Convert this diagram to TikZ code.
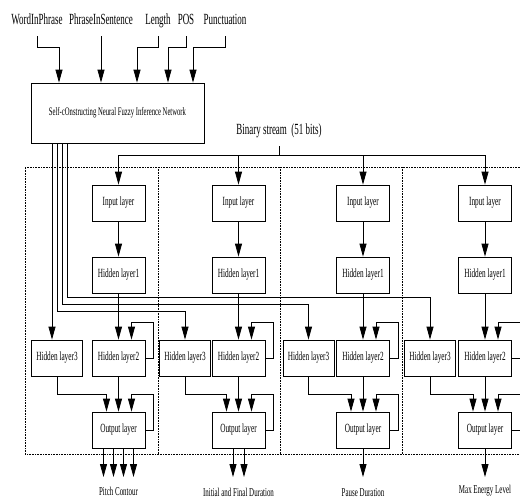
\documentclass[tikz,border=0pt]{standalone}
\usepackage{fontspec}
\setmainfont{Liberation Serif}[FakeStretch=0.58]
\usepackage{tikz}
\usetikzlibrary{positioning,arrows.meta}

\begin{document}
\begin{tikzpicture}[x=1pt, y=-1pt, >={Triangle[length=13pt,width=7pt]}, line width=0.8pt,
    box/.style={draw, minimum width=53pt, minimum height=36pt, inner sep=1pt, font=\fontsize{12.5}{14}\selectfont},
    sidebox/.style={box, minimum width=51pt},
    toplbl/.style={anchor=base, font=\fontsize{15.5}{18}\selectfont, text depth=4pt, inner xsep=0pt, inner ysep=8pt},
    outlbl/.style={anchor=base, font=\fontsize{12}{14}\selectfont, inner sep=1pt},
    frame/.style={densely dotted, line width=0.6pt}]
    \useasboundingbox (0,0) rectangle (520,501);

    % inputs of the fuzzy network
    \node[toplbl] (wip) at (37, 24) {WordInPhrase};
    \node[toplbl] (pis) at (101, 24) {PhraseInSentence};
    \node[toplbl] (len) at (158, 24) {Length};
    \node[toplbl] (pos) at (186, 24) {POS};
    \node[toplbl] (pun) at (225, 24) {Punctuation};

    \node[draw, minimum width=173pt, minimum height=60pt, inner sep=0pt, font=\fontsize{11.5}{13}\selectfont] (net) at (117.5, 113) {Self-cOnstructing Neural Fuzzy Inference Network};

    \draw[->] (wip.south) -- ++(0,11) -| ([xshift=-58.5]net.north);
    \draw[->] (pis.south) -- (pis.south |- net.north);
    \draw[->] (len.south) -- ++(0,11) -| ([xshift=19.5]net.north);
    \draw[->] (pos.south) -- ++(0,11) -| ([xshift=50.5]net.north);
    \draw[->] (pun.south) -- ++(0,11) -| ([xshift=75.5]net.north);

    \node[toplbl] (bin) at (279, 134) {Binary stream\ \ (51 bits)};
    \coordinate (bs) at (279, 155);

    % the four networks
    \draw[frame] (520,167) -- (25,167) -- (25,454) -- (520,454);
    \draw[frame] (158,167) -- (158,454);
    \draw[frame] (280,167) -- (280,454);
    \draw[frame] (402,167) -- (402,454);

    \node[box] (inp1) at (118.5, 203) {Input layer};
    \node[box] (inp2) at (238.5, 203) {Input layer};
    \node[box] (inp3) at (363, 203) {Input layer};
    \node[box] (inp4) at (485, 203) {Input layer};

    \node[box] (hone1) at (118.5, 275) {Hidden layer1};
    \node[box] (hone2) at (238.5, 275) {Hidden layer1};
    \node[box] (hone3) at (363, 275) {Hidden layer1};
    \node[box] (hone4) at (485, 275) {Hidden layer1};

    \node[box] (htwo1) at (118.5, 358) {Hidden layer2};
    \node[box] (htwo2) at (238.5, 358) {Hidden layer2};
    \node[box] (htwo3) at (363, 358) {Hidden layer2};
    \node[box] (htwo4) at (485, 358) {Hidden layer2};

    \node[sidebox] (hthree1) at (57, 358) {Hidden layer3};
    \node[sidebox] (hthree2) at (185, 358) {Hidden layer3};
    \node[sidebox] (hthree3) at (308.5, 358) {Hidden layer3};
    \node[sidebox] (hthree4) at (430, 358) {Hidden layer3};

    \node[box] (outp1) at (118.5, 430) {Output layer};
    \node[box] (outp2) at (238.5, 430) {Output layer};
    \node[box] (outp3) at (363, 430) {Output layer};
    \node[box] (outp4) at (485, 430) {Output layer};

    % binary stream
    \draw (bin.south) -- (bs);
    \draw[->] (bs) -| (inp1.north);
    \draw[->] (bs) -| (inp4.north);
    \draw[->] (bs -| inp2.north) -- (inp2.north);
    \draw[->] (bs -| inp3.north) -- (inp3.north);

    % network outputs to hidden layer3
    \draw[->] ([xshift=-65.5]net.south) -- ([xshift=-5]hthree1.north);
    \draw[->] ([xshift=-60.5]net.south) -- ++(0,168) -| (hthree2.north);
    \draw[->] ([xshift=-55.5]net.south) -- ++(0,161) -| (hthree3.north);
    \draw[->] ([xshift=-50.5]net.south) -- ++(0,154) -| (hthree4.north);

    \draw[->] (inp1) -- (hone1);
    \draw[->] (hone1) -- (htwo1);
    \draw[->] (htwo1) -- (outp1);
    \draw[->] (htwo1.east) -- ++(8,0) -- ++(0,-36) -| ([xshift=13]htwo1.north);
    \draw[->] (outp1.east) -- ++(8,0) -- ++(0,-36) -| ([xshift=13]outp1.north);
    \draw[->] (hthree1.south) -- ++(0,18) -| ([xshift=-12]outp1.north);

    \draw[->] (inp2) -- (hone2);
    \draw[->] (hone2) -- (htwo2);
    \draw[->] (htwo2) -- (outp2);
    \draw[->] (htwo2.east) -- ++(8,0) -- ++(0,-36) -| ([xshift=13]htwo2.north);
    \draw[->] (outp2.east) -- ++(8,0) -- ++(0,-36) -| ([xshift=13]outp2.north);
    \draw[->] (hthree2.south) -- ++(0,18) -| ([xshift=-12]outp2.north);

    \draw[->] (inp3) -- (hone3);
    \draw[->] (hone3) -- (htwo3);
    \draw[->] (htwo3) -- (outp3);
    \draw[->] (htwo3.east) -- ++(8,0) -- ++(0,-36) -| ([xshift=13]htwo3.north);
    \draw[->] (outp3.east) -- ++(8,0) -- ++(0,-36) -| ([xshift=13]outp3.north);
    \draw[->] (hthree3.south) -- ++(0,18) -| ([xshift=-12]outp3.north);

    \draw[->] (inp4) -- (hone4);
    \draw[->] (hone4) -- (htwo4);
    \draw[->] (htwo4) -- (outp4);
    \draw[->] (htwo4.east) -- ++(8,0) -- ++(0,-36) -| ([xshift=13]htwo4.north);
    \draw[->] (outp4.east) -- ++(8,0) -- ++(0,-36) -| ([xshift=13]outp4.north);
    \draw[->] (hthree4.south) -- ++(0,18) -| ([xshift=-12]outp4.north);

    % final outputs
    \coordinate (ends) at (0, 477);
    \node[outlbl] (pitch) at (118.5, 495) {Pitch Contour};
    \node[outlbl] (dur) at (238.5, 496) {Initial and Final Duration};
    \node[outlbl] (pause) at (363, 496) {Pause Duration};
    \node[outlbl] (energy) at (485, 493) {Max Energy Level};

    \draw[->] ([xshift=-15]outp1.south) -- ([xshift=-15]outp1.south |- ends);
    \draw[->] ([xshift=-5]outp1.south) -- ([xshift=-5]outp1.south |- ends);
    \draw[->] ([xshift=5]outp1.south) -- ([xshift=5]outp1.south |- ends);
    \draw[->] ([xshift=15]outp1.south) -- ([xshift=15]outp1.south |- ends);
    \draw[->] ([xshift=-5.5]outp2.south) -- ([xshift=-5.5]outp2.south |- ends);
    \draw[->] ([xshift=5.5]outp2.south) -- ([xshift=5.5]outp2.south |- ends);
    \draw[->] (outp3.south) -- (outp3.south |- ends);
    \draw[->] (outp4.south) -- (outp4.south |- ends);
\end{tikzpicture}
\end{document}
